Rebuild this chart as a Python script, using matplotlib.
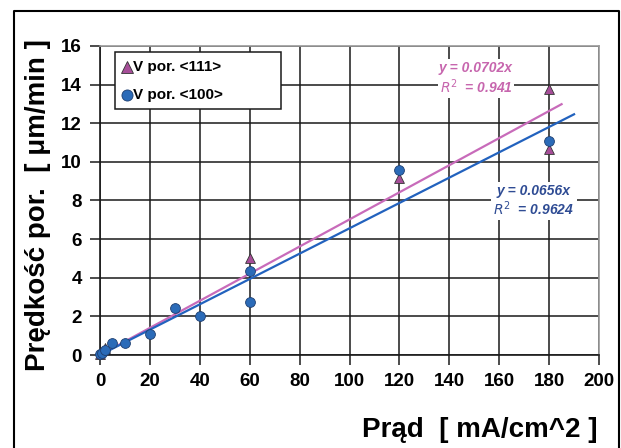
import matplotlib
matplotlib.use("Agg")
import matplotlib.pyplot as plt
import numpy as np
from matplotlib.lines import Line2D
from matplotlib.patches import Rectangle

plt.rcParams['font.family'] = ['Liberation Sans', 'DejaVu Sans']

# Pore growth rate vs. current density
x_111 = [0, 2, 60, 120, 180, 180]
y_111 = [0.05, 0.35, 5.0, 9.18, 13.75, 10.65]

x_100 = [0, 1, 2, 5, 10, 20, 30, 40, 60, 60, 120, 180]
y_100 = [0.05, 0.1, 0.24, 0.62, 0.62, 1.08, 2.43, 2.0, 4.37, 2.77, 9.6, 11.1]

label_111 = 'V por. <111>'
label_100 = 'V por. <100>'

slope_111, r2_111, xend_111 = 0.0702, 0.941, 185
slope_100, r2_100, xend_100 = 0.0656, 0.9624, 190

x_ticks = list(range(0, 201, 20))
y_ticks = list(range(0, 17, 2))

pink_mk = '#A64E98'
pink_ln = '#C86BBA'
pink_tx = '#C766AE'
blue_mk = '#2B6BB8'
blue_ln = '#2262BE'
blue_tx = '#2F4C94'

W, H = 621, 448


def fx(px):
    return px / W


def fy(py):
    return 1 - py / H


fig = plt.figure(figsize=(6.21, 4.48), dpi=100)
ax = fig.add_axes([fx(100), fy(355), 499 / W, 309 / H])

ax.set_xlim(0, 200)
ax.set_ylim(0, 16)
ax.set_xticks(x_ticks)
ax.set_yticks(y_ticks)
ax.grid(True, color='#1a1a1a', linewidth=1.1)
ax.set_axisbelow(True)

for side in ('top', 'right'):
    ax.spines[side].set_color('#9a9a9a')
    ax.spines[side].set_linewidth(1.2)
for side in ('left', 'bottom'):
    ax.spines[side].set_color('#1a1a1a')
    ax.spines[side].set_linewidth(1.2)

ax.tick_params(axis='both', direction='out', length=7, width=1.1, color='#1a1a1a',
               labelsize=13.5, pad=6)
for lab in ax.get_xticklabels() + ax.get_yticklabels():
    lab.set_fontweight('bold')

# linear fits through origin
xf1 = np.array([0, xend_111])
xf2 = np.array([0, xend_100])
ax.plot(xf1, slope_111 * xf1, color=pink_ln, linewidth=1.6, zorder=3)
ax.plot(xf2, slope_100 * xf2, color=blue_ln, linewidth=1.6, zorder=3)

ax.scatter(x_111, y_111, marker='^', s=50, color=pink_mk, edgecolors='#333333',
           linewidths=0.6, zorder=4, clip_on=False)
ax.scatter(x_100, y_100, marker='o', s=50, color=blue_mk, edgecolors='#1f3f70',
           linewidths=0.6, zorder=5, clip_on=False)

# fit equations
box = dict(facecolor='white', edgecolor='none', pad=1.5)
eq_kw = dict(fontsize=10, fontweight='bold', style='italic', ha='center',
             va='center', bbox=box, zorder=6)
fig.text(fx(476), fy(68), f'y = {slope_111}x', color=pink_tx, **eq_kw)
fig.text(fx(476), fy(87), f'$R^2$  = {r2_111}', color=pink_tx, **eq_kw)
fig.text(fx(534), fy(191), f'y = {slope_100}x', color=blue_tx, **eq_kw)
fig.text(fx(534), fy(209), f'$R^2$  = {r2_100}', color=blue_tx, **eq_kw)

# legend box
fig.add_artist(Rectangle((fx(115), fy(109)), 166 / W, 57 / H, transform=fig.transFigure,
                         facecolor='white', edgecolor='#1a1a1a', linewidth=1.1, zorder=7))
fig.add_artist(Line2D([fx(126.5)], [fy(67)], marker='^', markersize=8.5, color=pink_mk,
                      markeredgecolor='#333333', markeredgewidth=0.6, linestyle='none',
                      transform=fig.transFigure, zorder=8))
fig.add_artist(Line2D([fx(126.5)], [fy(95)], marker='o', markersize=8, color=blue_mk,
                      markeredgecolor='#1f3f70', markeredgewidth=0.6, linestyle='none',
                      transform=fig.transFigure, zorder=8))
leg_kw = dict(fontsize=11, fontweight='bold', ha='left', va='center', zorder=8)
fig.text(fx(133), fy(67), label_111, **leg_kw)
fig.text(fx(133), fy(95), label_100, **leg_kw)

fig.text(fx(38), fy(205), 'Prędkość por.  [ μm/min ]', rotation=90,
         fontsize=20, fontweight='bold', ha='center', va='center')
fig.text(fx(480), fy(430), 'Prąd  [ mA/cm^2 ]', fontsize=20,
         fontweight='bold', ha='center', va='center')

# outer frame
frame = Line2D([fx(13.5), fx(13.5), fx(619), fx(619)],
               [0, fy(11.5), fy(11.5), 0], transform=fig.transFigure,
               color='black', linewidth=1.5)
fig.add_artist(frame)

fig.savefig('out.png', dpi=100, facecolor='white')
